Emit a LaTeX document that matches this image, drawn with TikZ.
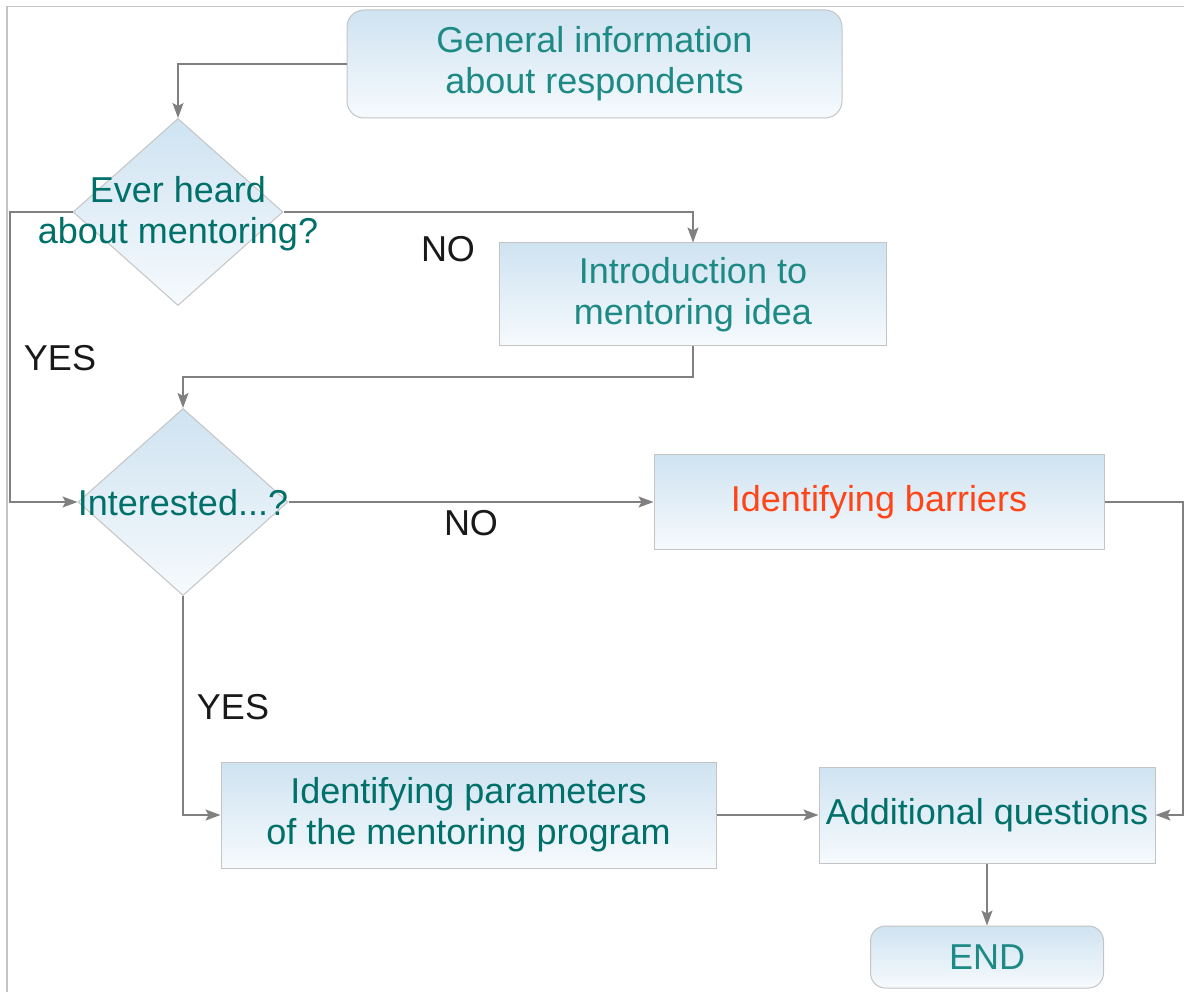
\documentclass[tikz,border=0pt]{standalone}
\usepackage{fontspec}
\setmainfont{Liberation Sans}
\usepackage{tikz}
\usetikzlibrary{shapes.geometric,arrows.meta,positioning}
\definecolor{tealLight}{HTML}{1E8A85}
\definecolor{tealDark}{HTML}{00706A}
\definecolor{barrierRed}{HTML}{FF4517}
\definecolor{boxTop}{HTML}{CFE3F1}
\definecolor{boxBottom}{HTML}{F6FAFD}
\definecolor{boxLine}{HTML}{C4C4C4}
\definecolor{wireGray}{HTML}{808080}

\begin{document}
\begin{tikzpicture}[
    x=1pt, y=-1pt,
    font=\fontsize{36}{41}\selectfont,
    box/.style={draw=boxLine, line width=1pt, rectangle, top color=boxTop, bottom color=boxBottom,
                inner sep=0pt, align=center},
    roundbox/.style={box, rounded corners=17pt},
    decision/.style={draw=boxLine, line width=1pt, diamond, top color=boxTop, bottom color=boxBottom,
                inner sep=0pt, minimum width=210pt, minimum height=187pt},
    qtext/.style={align=center, inner sep=0pt, text=tealDark},
    answer/.style={text=black!90},
    wire/.style={draw=wireGray, line width=1.1pt},
    arrow/.style={wire, -{Stealth[length=15pt, width=11pt, inset=3pt]}}
]
    \useasboundingbox (0,0) rectangle (1184,992);
    \draw[boxLine, line width=1.5pt] (7,992) -- (7,6.5) -- (1184,6.5);

    \node[roundbox, minimum width=495pt, minimum height=108pt, text=tealLight] (general) at (594.5,64) {General information\\about respondents};
    \node[decision] (heard) at (178,212) {};
    \node[qtext] (heardText) at (178,214) {Ever heard\\about mentoring?};
    \node[box, minimum width=387pt, minimum height=103pt, text=tealLight] (intro) at (693,294.5) {Introduction to\\mentoring idea};
    \node[decision] (interest) at (183,502) {};
    \node[qtext] (interestText) at (183,503) {Interested...?};
    \node[box, minimum width=450pt, minimum height=95pt, text=barrierRed] (barriers) at (879,502) {Identifying barriers};
    \node[box, minimum width=495pt, minimum height=106pt, text=tealDark] (params) at (468.5,815) {Identifying parameters\\of the mentoring program};
    \node[box, minimum width=336pt, minimum height=96pt, text=tealDark] (extra) at (987,815) {Additional questions};
    \node[roundbox, rounded corners=15pt, minimum width=233pt, minimum height=62pt, text=tealLight] (finish) at (987,957) {END};

    \coordinate (c3) at (10,212);
    \coordinate (c5) at (693,377);
    \coordinate (c8) at (1183,502);

    \draw[arrow] (general.west) -| (heard.north);
    \draw[arrow] (heard.east) -| (intro.north);
    \draw[arrow] (heard.west) -- (c3) |- (interest.west);
    \draw[arrow] (intro.south) -- (c5) -| (interest.north);
    \draw[arrow] (interest.east) -- (barriers.west);
    \draw[arrow] (interest.south) |- (params.west);
    \draw[arrow] (barriers.east) -- (c8) |- (extra.east);
    \draw[arrow] (params.east) -- (extra.west);
    \draw[arrow] (extra.south) -- (finish.north);

    \node[answer] (no1) at (448,249) {NO};
    \node[answer] (yes1) at (60,358) {YES};
    \node[answer] (no2) at (471,523) {NO};
    \node[answer] (yes2) at (233,707) {YES};
\end{tikzpicture}
\end{document}
